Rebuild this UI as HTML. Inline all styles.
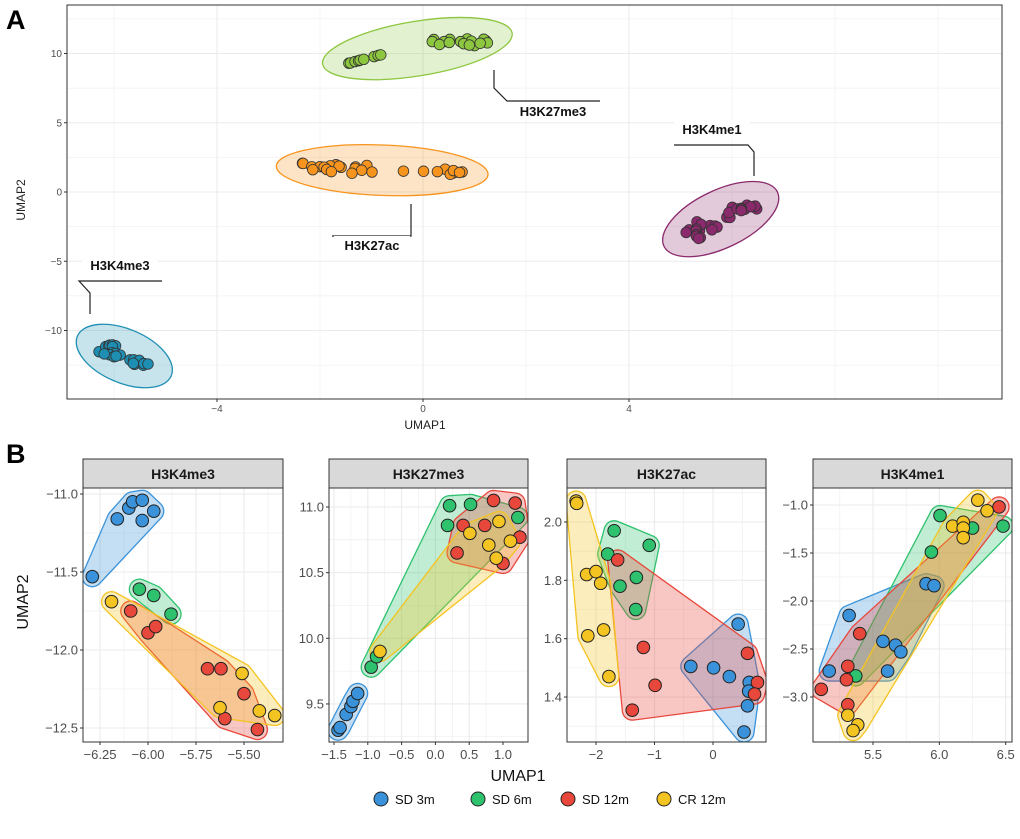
<!DOCTYPE html>
<html><head><meta charset="utf-8"><style>
body{margin:0;background:#fff;}
svg{display:block;font-family:"Liberation Sans",Arial,sans-serif;}
</style></head><body>
<svg id="s" width="1020" height="839" viewBox="0 0 1020 839"></svg>
<script>
// ---- data (per mark, per group: SD3m, SD6m, SD12m, CR12m) ----
const groups = ["SD 3m","SD 6m","SD 12m","CR 12m"];
const marks = ["H3K4me3","H3K27me3","H3K27ac","H3K4me1"];
const k4me3_x = [[-6.29,-6.16,-6.10,-6.08,-6.03,-5.97,-6.03],[-6.045,-5.97,-5.88],[-6.09,-6.00,-5.96,-5.69,-5.62,-5.50,-5.60,-5.43],[-6.19,-5.51,-5.625,-5.42,-5.34]];
const k4me3_y = [[-11.53,-11.16,-11.09,-11.05,-11.04,-11.11,-11.17],[-11.61,-11.65,-11.77],[-11.75,-11.89,-11.85,-12.12,-12.12,-12.28,-12.44,-12.51],[-11.69,-12.15,-12.37,-12.39,-12.42]];
const k27me3_x = [[-1.44,-1.41,-1.32,-1.25,-1.22,-1.15],[-0.95,-0.87,0.21,0.52,0.18,1.22],[0.86,1.18,0.41,0.73,1.25,0.32,1.00],[-0.82,0.94,0.51,1.11,0.79,0.90]];
const k27me3_y = [[9.30,9.32,9.42,9.48,9.52,9.58],[9.78,9.86,11.01,11.02,10.86,10.92],[11.05,11.03,10.86,10.86,10.77,10.65,10.57],[9.90,10.89,10.80,10.74,10.71,10.61]];
const k27ac_x = [[0.43,-0.38,0.01,0.28,0.62,0.61,0.59,0.53],[-1.69,-1.80,-1.09,-1.31,-1.59,-1.32],[-1.63,-1.19,-0.99,-1.38,0.59,0.76,0.71],[-2.34,-2.33,-2.16,-2.0,-1.92,-2.14,-1.87,-1.78]];
const k27ac_y = [[1.65,1.505,1.50,1.47,1.45,1.42,1.37,1.28],[1.97,1.89,1.92,1.81,1.78,1.70],[1.87,1.57,1.44,1.355,1.55,1.45,1.41],[2.072,2.064,1.82,1.83,1.79,1.61,1.63,1.47]];
const k4me1_x = [[5.32,5.17,5.575,5.67,5.71,5.61,5.90,5.96],[6.005,5.94,6.25,6.48,5.37],[6.45,5.40,5.31,5.30,5.11,5.31],[6.29,6.36,6.10,6.18,6.18,6.18,5.31,5.385,5.35]];
const k4me1_y = [[-2.15,-2.73,-2.42,-2.46,-2.53,-2.73,-1.82,-1.84],[-1.11,-1.49,-1.24,-1.22,-2.78],[-1.02,-2.34,-2.68,-2.82,-2.92,-3.08],[-0.95,-1.06,-1.22,-1.18,-1.24,-1.34,-3.19,-3.29,-3.35]];
const f1_xticks=[-6.25,-6,-5.75,-5.5], f1_yticks=[-11,-11.5,-12,-12.5];
const f2_xticks=[-1.5,-1,-0.5,0,0.5,1], f2_yticks=[9.5,10,10.5,11];
const f3_xticks=[-2,-1,0], f3_yticks=[1.4,1.6,1.8,2.0];
const f4_xticks=[5.5,6,6.5], f4_yticks=[-1,-1.5,-2,-2.5,-3];
const a_xticks=[-4,0,4], a_yticks=[10,5,0,-5,-10];

const NS="http://www.w3.org/2000/svg";
const svg=document.getElementById('s');
function el(tag,attrs,parent){const e=document.createElementNS(NS,tag);for(const k in attrs)e.setAttribute(k,attrs[k]);(parent||svg).appendChild(e);return e;}
function txt(str,attrs,parent){const t=el('text',attrs,parent);t.textContent=str;return t;}
const gcol=["#3A93DA","#2EC26E","#E8473B","#F4C422"];
const mcol=["#1E8FB3","#8DC63F","#F7941D","#8A2A6C"];
const allX=[k4me3_x,k27me3_x,k27ac_x,k4me1_x], allY=[k4me3_y,k27me3_y,k27ac_y,k4me1_y];

function hull(pts){pts=pts.slice().sort((a,b)=>a[0]-b[0]||a[1]-b[1]);if(pts.length<3)return pts;
 const cr=(o,a,b)=>(a[0]-o[0])*(b[1]-o[1])-(a[1]-o[1])*(b[0]-o[0]);const lo=[],up=[];
 for(const p of pts){while(lo.length>=2&&cr(lo[lo.length-2],lo[lo.length-1],p)<=0)lo.pop();lo.push(p);}
 for(let i=pts.length-1;i>=0;i--){const p=pts[i];while(up.length>=2&&cr(up[up.length-2],up[up.length-1],p)<=0)up.pop();up.push(p);}
 up.pop();lo.pop();return lo.concat(up);}
function expandHull(pts,r){const c=[];for(const p of pts)for(let a=0;a<32;a++){c.push([p[0]+r*Math.cos(a*Math.PI/16),p[1]+r*Math.sin(a*Math.PI/16)]);}return hull(c);}

// ---------- Panel A ----------
const A={x0:67,x1:1002,y0:5,y1:399};
const ax=v=>423+v*51.5, ay=v=>192-v*13.85;
txt("A",{x:6,y:29,'font-size':27,'font-weight':'bold',});
const gA=el('g',{});
el('rect',{x:A.x0,y:A.y0,width:A.x1-A.x0,height:A.y1-A.y0,fill:'#fff'},gA);
for(let v=-6;v<=10;v+=2){const x=ax(v);if(x>A.x0&&x<A.x1)el('line',{x1:x,x2:x,y1:A.y0,y2:A.y1,stroke:'#ebebeb','stroke-width':a_xticks.includes(v)?1.1:0.55},gA);}
for(let v=-12.5;v<=12.5;v+=2.5){const y=ay(v);if(y>A.y0&&y<A.y1)el('line',{x1:A.x0,x2:A.x1,y1:y,y2:y,stroke:'#ebebeb','stroke-width':a_yticks.includes(v)?1.1:0.55},gA);}
a_xticks.forEach(v=>{el('line',{x1:ax(v),x2:ax(v),y1:A.y1,y2:A.y1+3,stroke:'#333'},gA);txt(v<0?"\u2212"+(-v):String(v),{x:ax(v),y:A.y1+13,'text-anchor':'middle','font-size':10,fill:'#4d4d4d'},gA);});
a_yticks.forEach(v=>{el('line',{x1:A.x0-3,x2:A.x0,y1:ay(v),y2:ay(v),stroke:'#333'},gA);txt(v<0?"\u2212"+(-v):String(v),{x:A.x0-5,y:ay(v)+3.5,'text-anchor':'end','font-size':10,fill:'#4d4d4d'},gA);});
txt("UMAP1",{x:425,y:429,'text-anchor':'middle','font-size':12,fill:'#222',});
txt("UMAP2",{x:0,y:0,transform:'translate(25,200) rotate(-90)','text-anchor':'middle','font-size':12,fill:'#222',});
marks.forEach((m,mi)=>{
 const P=[];allX[mi].forEach((xs,gi)=>xs.forEach((x,i)=>P.push([ax(x),ay(allY[mi][gi][i])])));
 const n=P.length,cx=P.reduce((s,p)=>s+p[0],0)/n,cy=P.reduce((s,p)=>s+p[1],0)/n;
 let sxx=0,syy=0,sxy=0;P.forEach(p=>{const dx=p[0]-cx,dy=p[1]-cy;sxx+=dx*dx;syy+=dy*dy;sxy+=dx*dy;});
 const th=0.5*Math.atan2(2*sxy,sxx-syy);const c=Math.cos(th),s=Math.sin(th);
 let mn1=1e9,mx1=-1e9,mn2=1e9,mx2=-1e9;P.forEach(p=>{const u=(p[0]-cx)*c+(p[1]-cy)*s,w=-(p[0]-cx)*s+(p[1]-cy)*c;mn1=Math.min(mn1,u);mx1=Math.max(mx1,u);mn2=Math.min(mn2,w);mx2=Math.max(mx2,w);});
 const mu=(mn1+mx1)/2,mw=(mn2+mx2)/2;const ex=cx+mu*c-mw*s,ey=cy+mu*s+mw*c;
 const e=el('ellipse',{cx:ex,cy:ey,rx:(mx1-mn1)/2+26,ry:(mx2-mn2)/2+21,transform:`rotate(${th*180/Math.PI} ${ex} ${ey})`,fill:mcol[mi],'fill-opacity':0.25,stroke:mcol[mi],'stroke-width':1.3},gA);
 
 
 P.forEach(p=>{const c2=el('circle',{cx:p[0],cy:p[1],r:5.3,fill:mcol[mi],stroke:'#333','stroke-width':0.8},gA);
  
  });
});
el('rect',{x:A.x0,y:A.y0,width:A.x1-A.x0,height:A.y1-A.y0,fill:'none',stroke:'#333','stroke-width':1},gA);
function lab(str,x,y,pts,name){const g=el('g',{});
 el('polyline',{points:pts,fill:'none',stroke:'#222','stroke-width':1.2},g);
 el('rect',{x:x-38,y:y-11,width:76,height:17,fill:'#fff'},g);
 txt(str,{x:x,y:y+3,'text-anchor':'middle','font-size':13,'font-weight':'bold',fill:'#111'},g);}
lab("H3K27me3",553,113,"494,70 494,88 507,101 600,101",'label-h3k27me3');
lab("H3K4me1",712,131,"674,145 748,145 754,152 754,176",'label-h3k4me1');
lab("H3K27ac",372,247,"332,236 411,236 411,204",'label-h3k27ac');
lab("H3K4me3",120,267,"162,281 79,281 90,293 90,314",'label-h3k4me3');

// ---------- Panel B ----------
txt("B",{x:6,y:463,'font-size':27,'font-weight':'bold',});
const facets=[
 {x0:83,x1:283,xt:f1_xticks,yt:f1_yticks,xa:[-6.25,100,192],ya:[-11,494,156],xd:2},
 {x0:329,x1:528,xt:f2_xticks,yt:f2_yticks,xa:[-1.5,334,67.6],ya:[11,507,131.3],xd:1},
 {x0:567,x1:766,xt:f3_xticks,yt:f3_yticks,xa:[-2,596,58.5],ya:[2.0,522,291.7],xd:0},
 {x0:813,x1:1012,xt:f4_xticks,yt:f4_yticks,xa:[5.5,873,132.7],ya:[-1,505,96],xd:1}];
const sy0=459,py0=488,py1=742;
facets.forEach((f,fi)=>{
 const m=marks[fi];
 const X=v=>f.xa[1]+(v-f.xa[0])*f.xa[2], Y=v=>f.ya[1]-(v-f.ya[0])*f.ya[2];
 const g=el('g',{});
 el('rect',{x:f.x0,y:sy0,width:f.x1-f.x0,height:py0-sy0,fill:'#d9d9d9',stroke:'#333','stroke-width':1,},g);
 txt(m,{x:(f.x0+f.x1)/2,y:sy0+20,'text-anchor':'middle','font-size':14,'font-weight':'bold',fill:'#1a1a1a'},g);
 const cp='cp'+fi;const d=el('clipPath',{id:cp},g);el('rect',{x:f.x0,y:py0,width:f.x1-f.x0,height:py1-py0},d);
 const inner=el('g',{'clip-path':`url(#${cp})`},g);
 const dx=f.xt[1]-f.xt[0],dy=f.yt[1]-f.yt[0];
 for(let i=-4;i<f.xt.length+4;i++){const v=f.xt[0]+dx*i/2;const x=X(v);el('line',{x1:x,x2:x,y1:py0,y2:py1,stroke:'#ebebeb','stroke-width':i%2==0?1.1:0.55},inner);}
 for(let i=-4;i<f.yt.length+4;i++){const v=f.yt[0]+dy*i/2;const y=Y(v);el('line',{x1:f.x0,x2:f.x1,y1:y,y2:y,stroke:'#ebebeb','stroke-width':i%2==0?1.1:0.55},inner);}
 const xs=allX[fi],ys=allY[fi];
 xs.forEach((xx,gi)=>{const P=xx.map((x,i)=>[X(x),Y(ys[gi][i])]);const H=expandHull(hull(P),10);
  const h=el('polygon',{points:H.map(p=>p.join(',')).join(' '),fill:gcol[gi],'fill-opacity':0.3,stroke:gcol[gi],'stroke-width':1.3},inner);
  
  });
 xs.forEach((xx,gi)=>xx.forEach((x,i)=>{const c=el('circle',{cx:X(x),cy:Y(ys[gi][i]),r:6.3,fill:gcol[gi],stroke:'#222','stroke-width':1},inner);
  
  }));
 el('rect',{x:f.x0,y:py0,width:f.x1-f.x0,height:py1-py0,fill:'none',stroke:'#333','stroke-width':1},g);
 f.xt.forEach(v=>{el('line',{x1:X(v),x2:X(v),y1:py1,y2:py1+3,stroke:'#333'},g);txt(v.toFixed(f.xd).replace("-","\u2212"),{x:X(v),y:py1+17,'text-anchor':'middle','font-size':13,fill:'#4d4d4d'},g);});
 f.yt.forEach(v=>{el('line',{x1:f.x0-3,x2:f.x0,y1:Y(v),y2:Y(v),stroke:'#333'},g);txt(v.toFixed(1).replace("-","\u2212"),{x:f.x0-5,y:Y(v)+4.5,'text-anchor':'end','font-size':13,fill:'#4d4d4d'},g);});
});
txt("UMAP1",{x:518,y:781,'text-anchor':'middle','font-size':16,fill:'#111',});
txt("UMAP2",{x:0,y:0,transform:'translate(28,602) rotate(-90)','text-anchor':'middle','font-size':16,fill:'#111',});
const lx=[381,478,568,664];
const lg=el('g',{});
groups.forEach((gname,i)=>{const e=el('g',{},lg);
 
 
 el('circle',{cx:lx[i],cy:799,r:7,fill:gcol[i],stroke:'#222','stroke-width':1},e);
 txt(gname,{x:lx[i]+14,y:804,'font-size':13,fill:'#111'},e);});
</script>
</body></html>
